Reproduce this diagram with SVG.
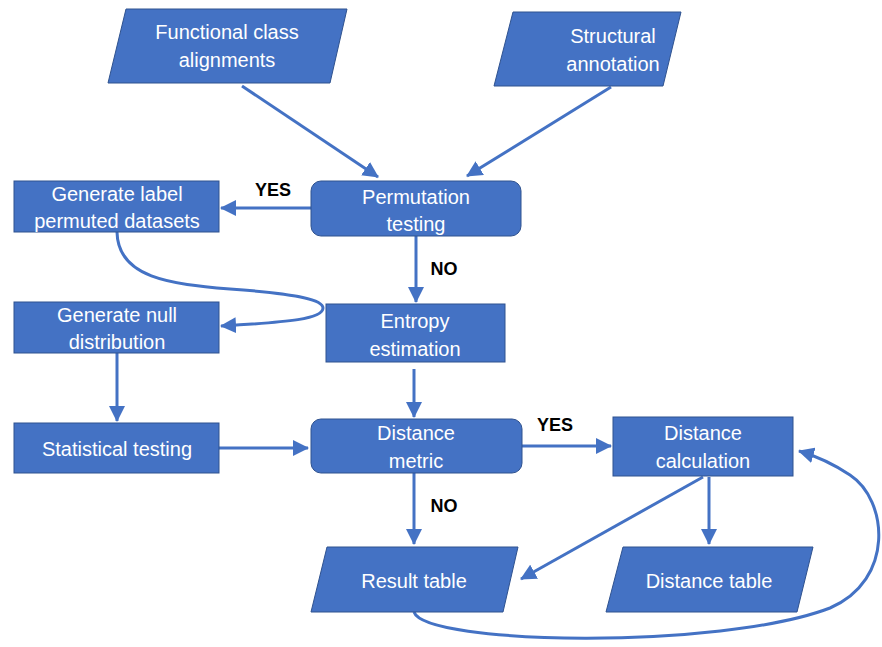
<svg xmlns="http://www.w3.org/2000/svg" width="882" height="647" viewBox="0 0 882 647">
<defs>
<marker id="ah" markerUnits="userSpaceOnUse" markerWidth="16" markerHeight="16" viewBox="0 0 16 16" refX="15" refY="8" orient="auto">
<path d="M0,0 L16,8 L0,16 Z" fill="#4472C4"/>
</marker>
<style>
.n{fill:#4472C4;stroke:#2F528F;stroke-width:1}
.t{font-family:"Liberation Sans",Arial,sans-serif;font-size:20px;fill:#FFFFFF;text-anchor:middle}
.l{font-family:"Liberation Sans",Arial,sans-serif;font-size:18px;font-weight:bold;fill:#000000;text-anchor:middle}
.c{fill:none;stroke:#4472C4;stroke-width:3;marker-end:url(#ah)}
</style>
</defs>
<rect width="882" height="647" fill="#FFFFFF"/>
<g id="connectors">
<path class="c" d="M242,86 L378,177"/>
<path class="c" d="M611,87 L467,176"/>
<path class="c" d="M311,208 L221,208"/>
<path class="c" d="M416,236 L416,302"/>
<path class="c" d="M117,232 C118,278 170,284 230,289 C300,294 323,300 323,308 C323,319 290,322 221,326"/>
<path class="c" d="M117,353 L117,421"/>
<path class="c" d="M414,369 L414,417"/>
<path class="c" d="M219,448 L308,448"/>
<path class="c" d="M522,446 L611,446"/>
<path class="c" d="M414,473 L414,544"/>
<path class="c" d="M703,477 L521,579"/>
<path class="c" d="M709,477 L709,544"/>
<path class="c" d="M414,612 C425,645 720,650 830,608 C895,580 888,500 850,475 C832,463 816,456 799,451"/>
</g>
<g id="labels">
<text class="l" x="273" y="196">YES</text>
<text class="l" x="444" y="275">NO</text>
<text class="l" x="555" y="431">YES</text>
<text class="l" x="444" y="512">NO</text>
</g>
<g id="functional">
<polygon class="n" points="126,9 347,9 330,83 108,83"/>
<text class="t" x="227" y="39">Functional class</text>
<text class="t" x="227" y="67">alignments</text>
</g>
<g id="structural">
<polygon class="n" points="513,12 681,12 663,86 494,86"/>
<text class="t" x="613" y="43">Structural</text>
<text class="t" x="613" y="71">annotation</text>
</g>
<g id="permutation">
<rect class="n" x="311" y="181" width="210" height="55" rx="10"/>
<text class="t" x="416" y="204">Permutation</text>
<text class="t" x="416" y="231">testing</text>
</g>
<g id="genlabel">
<rect class="n" x="14" y="181" width="205" height="51"/>
<text class="t" x="117" y="201">Generate label</text>
<text class="t" x="117" y="228">permuted datasets</text>
</g>
<g id="gennull">
<rect class="n" x="14" y="302" width="205" height="51"/>
<text class="t" x="117" y="322">Generate null</text>
<text class="t" x="117" y="349">distribution</text>
</g>
<g id="entropy">
<rect class="n" x="326" y="304" width="179" height="58"/>
<text class="t" x="415" y="328">Entropy</text>
<text class="t" x="415" y="356">estimation</text>
</g>
<g id="stat">
<rect class="n" x="14" y="423" width="205" height="50"/>
<text class="t" x="117" y="456">Statistical testing</text>
</g>
<g id="metric">
<rect class="n" x="311" y="419" width="211" height="54" rx="10"/>
<text class="t" x="416" y="440">Distance</text>
<text class="t" x="416" y="468">metric</text>
</g>
<g id="calc">
<rect class="n" x="613" y="417" width="180" height="59"/>
<text class="t" x="703" y="440">Distance</text>
<text class="t" x="703" y="468">calculation</text>
</g>
<g id="result">
<polygon class="n" points="327,547 518,547 503,612 311,612"/>
<text class="t" x="414" y="588">Result table</text>
</g>
<g id="disttable">
<polygon class="n" points="623,547 813,547 797,612 606,612"/>
<text class="t" x="709" y="588">Distance table</text>
</g>
</svg>
